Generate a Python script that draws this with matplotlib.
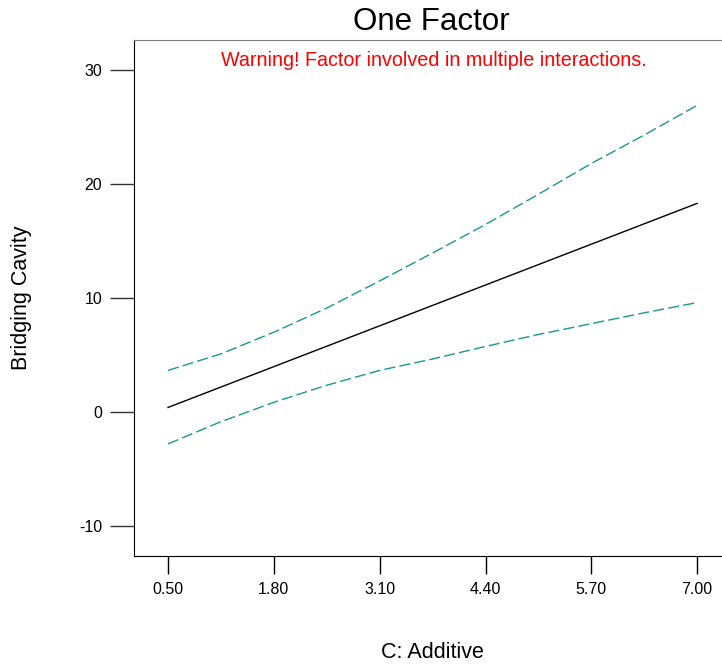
import matplotlib
matplotlib.use("Agg")
import matplotlib.pyplot as plt

plt.rcParams['font.family'] = ['Liberation Sans', 'DejaVu Sans']
plt.rcParams['axes.unicode_minus'] = False

# Data
additive = [0.5, 1.15, 1.8, 2.45, 3.1, 3.75, 4.4, 5.05, 5.7, 6.35, 7.0]
predicted = [0.4, 2.19, 3.98, 5.77, 7.56, 9.35, 11.14, 12.93, 14.72, 16.51, 18.3]
upper_ci = [3.65, 5.1, 7.0, 9.12, 11.5, 13.95, 16.45, 19.1, 21.8, 24.3, 26.9]
lower_ci = [-2.8, -0.85, 0.85, 2.35, 3.65, 4.65, 5.75, 6.8, 7.75, 8.7, 9.6]

xticks = [0.5, 1.8, 3.1, 4.4, 5.7, 7.0]
xtick_labels = ['0.50', '1.80', '3.10', '4.40', '5.70', '7.00']
yticks = [-10, 0, 10, 20, 30]

fig = plt.figure(figsize=(7.22, 6.64), dpi=100)
ax = fig.add_axes([134 / 722, 108 / 664, 588 / 722, 516 / 664])

teal = '#1a9696'
ax.plot(additive, predicted, color='black', lw=1.0)
ax.plot(additive, upper_ci, color=teal, lw=1.0, dashes=(8, 3))
ax.plot(additive, lower_ci, color=teal, lw=1.0, dashes=(8, 3))

ax.set_xlim(0.082, 7.305)
ax.set_ylim(-12.63, 32.63)
ax.set_xticks(xticks)
ax.set_xticklabels(xtick_labels)
ax.set_yticks(yticks)

ax.spines['right'].set_visible(False)
ax.spines['top'].set_color('#808080')
ax.spines['left'].set_color('black')
ax.spines['bottom'].set_color('black')
ax.tick_params(axis='y', length=17, width=1, colors='#333333', labelcolor='black',
               labelsize=11.5, pad=6)
ax.tick_params(axis='x', length=13, width=1, colors='black', labelsize=11.5, pad=6)

ax.set_xlabel('C: Additive', fontsize=15.5)
ax.set_ylabel('Bridging Cavity', fontsize=15.5)
# place axis labels where the reference has them (pixels -> axes fraction)
ax.xaxis.set_label_coords((432 - 134) / 588, -(653 - 556) / 516)
ax.xaxis.label.set_va('center')
ax.yaxis.set_label_coords(-(134 - 22) / 588, (556 - 298) / 516)
ax.yaxis.label.set_va('center')

fig.text(0.598, 1 - 22 / 664, 'One Factor', fontsize=22.5, ha='center', va='center')
ax.text((434 - 134) / 588, 1 - 20 / 516, 'Warning! Factor involved in multiple interactions.',
        transform=ax.transAxes, color='red', fontsize=14.2, ha='center', va='center')

fig.savefig('out.png', dpi=100)
